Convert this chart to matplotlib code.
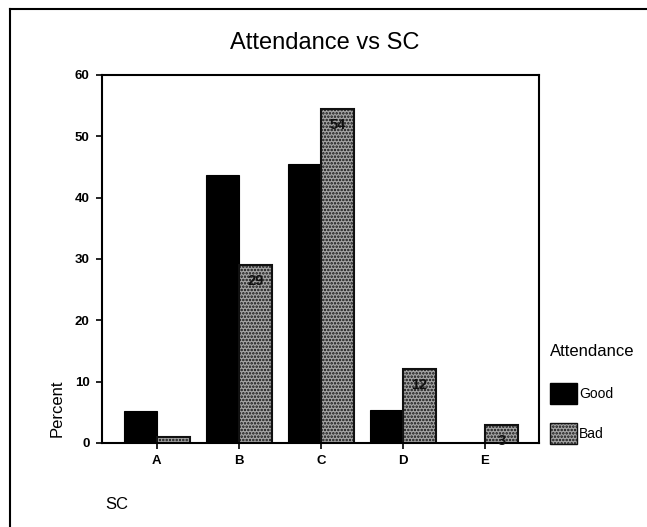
import matplotlib
matplotlib.use("Agg")
from matplotlib import pyplot as plt
from matplotlib.lines import Line2D
from matplotlib.patches import Patch
import numpy as np

plt.rcParams['font.family'] = ['Liberation Sans', 'DejaVu Sans']
plt.rcParams['hatch.linewidth'] = 1.2

categories = ['A', 'B', 'C', 'D', 'E']
good = [5.2, 43.7, 45.5, 5.4, 0.0]
bad = [1.0, 29.0, 54.4, 12.0, 3.0]
bad_labels = ['', '29', '54', '12', '3']

fig = plt.figure(figsize=(6.47, 5.27), dpi=100)
fig.set_facecolor('white')
ax = fig.add_axes([0.1577, 0.1594, 0.6754, 0.6983])

x = np.arange(len(categories))
w = 0.4
ax.bar(x - w / 2, good, w, color='black', edgecolor='black', linewidth=0.8)
bars = ax.bar(x + w / 2, bad, w, color='#a5a5a5', edgecolor='#111111',
              linewidth=1.5, hatch='.....')
for b, lab in zip(bars, bad_labels):
    if lab:
        ax.text(b.get_x() + b.get_width() / 2, b.get_height() - 2.6, lab,
                ha='center', va='center', fontsize=10.5, fontweight='bold',
                color='#111111')

ax.set_xlim(-0.67, 4.66)
ax.set_ylim(0, 60)
ax.set_yticks(range(0, 61, 10))
ax.set_xticks(x)
ax.set_xticklabels(categories)
ax.tick_params(axis='both', labelsize=9.5, length=4, width=1.2, pad=5)
for lab in ax.get_xticklabels() + ax.get_yticklabels():
    lab.set_fontweight('bold')
for s in ax.spines.values():
    s.set_linewidth(1.5)

ax.set_ylabel('Percent', fontsize=12, labelpad=7, y=0.095)
fig.text(0.162, 0.035, 'SC', fontsize=12)
fig.text(0.502, 0.918, 'Attendance vs SC', fontsize=17, ha='center',
         va='center')

handles = [Patch(facecolor='black', edgecolor='black', label='Good'),
           Patch(facecolor='#a5a5a5', edgecolor='#111111', hatch='.....',
                 label='Bad')]
leg = fig.legend(handles=handles, loc='upper left',
                 bbox_to_anchor=(0.835, 0.365), frameon=False,
                 title='Attendance', fontsize=10, title_fontsize=12,
                 handlelength=1.95, handleheight=1.95, labelspacing=1.4,
                 handletextpad=0.15, borderpad=0.2)
leg._legend_box.align = 'left'
leg._legend_box.sep = 17

# outer frame (top and left edges only, as in the scan)
fig.add_artist(Line2D([0.015, 1.0], [0.983, 0.983], color='black', lw=1.5,
                      transform=fig.transFigure))
fig.add_artist(Line2D([0.015, 0.015], [0.0, 0.983], color='black', lw=1.5,
                      transform=fig.transFigure))

fig.savefig('out.png', dpi=100)
